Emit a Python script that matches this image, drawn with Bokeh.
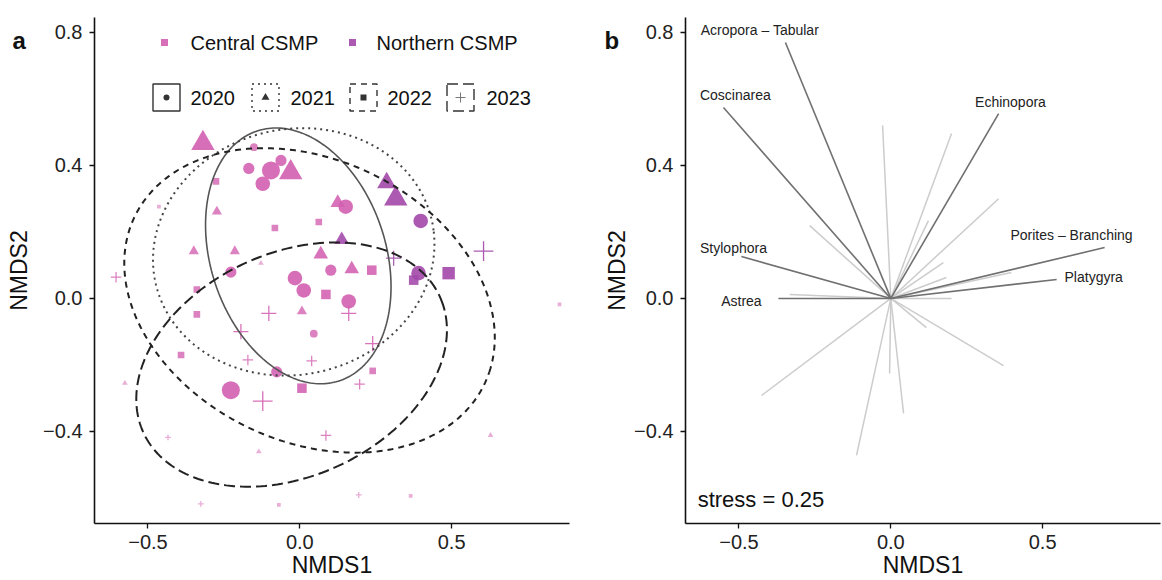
import numpy as np
from bokeh.plotting import figure
from bokeh.layouts import row
from bokeh.models import Label, ColumnDataSource, Range1d, FixedTicker, CustomJSTickFormatter
from bokeh.core.properties import value
from bokeh.embed import file_html
from bokeh.resources import INLINE

FONT = "Liberation Sans"

# ---------------- Panel a: site scores ----------------
nmds1 = [-0.319, -0.151, -0.168, -0.095, -0.122, -0.062, -0.030, -0.276, -0.464, -0.273,
         0.125, 0.151, 0.0625, -0.082, 0.138, -0.349, -0.214, 0.069, -0.128, -0.227,
         0.102, 0.171, 0.237, -0.016, 0.013, 0.086, 0.161, -0.339, -0.605, -0.339,
         -0.102, 0.007, 0.161, -0.194, 0.046, -0.391, -0.171, 0.039, 0.240, -0.076,
         0.007, 0.240, 0.197, -0.576, -0.227, -0.122, -0.434, 0.086, -0.135, -0.326,
         -0.069, 0.194, 0.365, 0.628, 0.855, 0.286, 0.316, 0.398, 0.605, 0.309,
         0.391, 0.375, 0.490]
nmds2 = [0.467, 0.455, 0.391, 0.385, 0.345, 0.415, 0.379, 0.352, 0.276, 0.261,
         0.288, 0.276, 0.230, 0.212, 0.176, 0.142, 0.142, 0.133, 0.106, 0.079,
         0.085, 0.088, 0.085, 0.061, 0.024, 0.012, -0.009, 0.027, 0.064, -0.048,
         -0.045, -0.039, -0.045, -0.100, -0.106, -0.170, -0.185, -0.188, -0.136, -0.221,
         -0.270, -0.218, -0.258, -0.255, -0.276, -0.309, -0.418, -0.412, -0.461, -0.618,
         -0.621, -0.591, -0.594, -0.412, -0.018, 0.348, 0.300, 0.233, 0.142, 0.121,
         0.076, 0.055, 0.076]
year = [2021, 2020, 2020, 2020, 2020, 2020, 2021, 2022, 2022, 2021,
        2021, 2020, 2022, 2022, 2021, 2021, 2021, 2021, 2021, 2020,
        2020, 2021, 2022, 2020, 2020, 2022, 2020, 2022, 2023, 2022,
        2023, 2021, 2023, 2023, 2020, 2022, 2023, 2023, 2023, 2020,
        2022, 2022, 2023, 2021, 2020, 2023, 2023, 2023, 2021, 2023,
        2022, 2023, 2022, 2021, 2022, 2021, 2021, 2020, 2023, 2023,
        2020, 2022, 2022]
site = ["Central"] * 14 + ["Northern"] + ["Central"] * 40 + ["Northern"] * 8
cover = [5, 2, 3, 5, 4, 3, 5, 2, 1, 2,
         3, 4, 2, 2, 3, 2, 2, 3, 1, 3,
         3, 3, 3, 4, 4, 3, 4, 2, 2, 2,
         3, 2, 3, 3, 2, 2, 2, 2, 3, 3,
         3, 2, 2, 1, 5, 4, 1, 2, 1, 1,
         1, 1, 1, 1, 1, 4, 5, 4, 4, 3,
         4, 3, 4]

# 95% ellipses per year (centre, semi-axes, angle in degrees)
ell_year = [2020, 2021, 2022, 2023]
ell_cx = [-0.005, -0.020, 0.032, -0.027]
ell_cy = [0.128, 0.140, -0.006, -0.199]
ell_a = [0.400, 0.465, 0.630, 0.530]
ell_b = [0.285, 0.370, 0.430, 0.340]
ell_angle = [113, 8, -20, 20]

site_labels = ["Central CSMP", "Northern CSMP"]

# ---------------- Panel b: species vectors ----------------
taxa = ["Acropora \u2013 Tabular", "Coscinarea", "Echinopora", "Porites \u2013 Branching",
        "Platygyra", "Stylophora", "Astrea",
        "t8", "t9", "t10", "t11", "t12", "t13", "t14", "t15", "t16", "t17",
        "t18", "t19", "t20", "t21", "t22", "t23"]
vec1 = [-0.347, -0.551, 0.355, 0.704, 0.546, -0.492, -0.370,
        -0.027, -0.267, 0.200, 0.355, 0.124, 0.173, 0.183, 0.397, 0.200, -0.333,
        -0.426, -0.113, -0.004, 0.042, 0.117, 0.371]
vec2 = [0.770, 0.574, 0.556, 0.153, 0.057, 0.126, 0.000,
        0.520, 0.219, 0.496, 0.300, 0.234, 0.108, 0.063, 0.078, 0.000, 0.012,
        -0.292, -0.472, -0.226, -0.346, -0.088, -0.202]
lab_taxa = ["Acropora \u2013 Tabular", "Coscinarea", "Echinopora", "Porites \u2013 Branching",
            "Platygyra", "Stylophora", "Astrea"]
lab_x = [-0.431, -0.512, 0.394, 0.595, 0.668, -0.518, -0.492]
lab_y = [0.806, 0.613, 0.592, 0.192, 0.063, 0.153, -0.009]
stress = 0.25

panel_letters = ["a", "b"]
y_title = "NMDS2"
x_title = "NMDS1"

# ---------------- layout constants ----------------
X0, X1 = -0.676, 0.888
Y0, Y1 = -0.677, 0.845
TOP, BOTTOM = 17, 57
H = 580
FH = H - TOP - BOTTOM

COL = {"Central": "#D35FB0", "Northern": "#A247A8"}
SHAPE = {2020: "circle", 2021: "triangle", 2022: "square", 2023: "cross"}
SHAPE_SCALE = {2020: 1.0, 2021: 1.3, 2022: 0.85, 2023: 1.35}
DASH = {2020: "solid", 2021: "2 4", 2022: "6 5", 2023: "11 5"}
ELL_COL = {2020: "#555555", 2021: "#444444", 2022: "#222222", 2023: "#222222"}
ELL_W = {2020: 1.6, 2021: 2.0, 2022: 2.0, 2023: 2.0}
ALPHA = {1: 0.5, 2: 0.78, 3: 0.88, 4: 0.9, 5: 0.9}


def make_fig(width, left, right):
    p = figure(width=width, height=H, x_range=Range1d(X0, X1), y_range=Range1d(Y0, Y1),
               output_backend="svg", toolbar_location=None,
               min_border_left=left, min_border_right=right,
               min_border_top=TOP, min_border_bottom=BOTTOM)
    p.outline_line_color = None
    p.xgrid.visible = False
    p.ygrid.visible = False
    p.background_fill_color = "white"
    p.border_fill_color = "white"
    fmt = CustomJSTickFormatter(code="return (tick < 0 ? '\\u2212' : '') + Math.abs(tick).toFixed(1);")
    p.xaxis.ticker = FixedTicker(ticks=[-0.5, 0.0, 0.5])
    p.yaxis.ticker = FixedTicker(ticks=[-0.4, 0.0, 0.4, 0.8])
    for ax in (p.xaxis[0], p.yaxis[0]):
        ax.formatter = fmt
        ax.axis_line_color = "#111111"
        ax.axis_line_width = 1.6
        ax.major_tick_line_color = "#111111"
        ax.major_tick_line_width = 1.3
        ax.major_tick_out = 5
        ax.major_tick_in = 0
        ax.minor_tick_out = 0
        ax.minor_tick_in = 0
        ax.major_label_text_font = FONT
        ax.major_label_text_font_size = "20px"
        ax.major_label_text_color = "#222222"
        ax.axis_label_text_font = FONT
        ax.axis_label_text_font_size = "23px"
        ax.axis_label_text_font_style = "normal"
        ax.axis_label_text_color = "#111111"
    p.xaxis.axis_label = x_title
    p.xaxis.major_label_standoff = 6
    p.xaxis.axis_label_standoff = 0
    p.yaxis.major_label_standoff = 7
    return p


def strip(width, letter, letter_x, title_x):
    """Narrow strip left of a panel carrying the panel letter and the y title.
    Its frame is aligned with the panel frame, so y is in page pixels (top-down)."""
    s = figure(width=width, height=H, x_range=Range1d(0, width),
               y_range=Range1d(TOP + FH, TOP),
               output_backend="svg", toolbar_location=None,
               x_axis_type=None, y_axis_type=None,
               min_border_left=0, min_border_right=0,
               min_border_top=TOP, min_border_bottom=BOTTOM)
    s.outline_line_color = None
    s.xgrid.visible = False
    s.ygrid.visible = False
    s.background_fill_color = "white"
    s.border_fill_color = "white"
    s.text(x=[letter_x], y=[40], text=[letter], text_font=value(FONT),
           text_font_size="24px", text_font_style="bold", text_align="left",
           text_baseline="alphabetic", text_color="#111111")
    s.text(x=[title_x], y=[TOP + FH / 2], text=[y_title], text_font=value(FONT),
           text_font_size="23px", text_align="center", text_baseline="middle",
           angle=np.pi / 2, text_color="#111111")
    return s


def px_to_data(frame_left, frame_w):
    def sx(px):
        return X0 + (px - frame_left) / frame_w * (X1 - X0)

    def sy(py):
        return Y1 - (py - TOP) / FH * (Y1 - Y0)
    return sx, sy


# ================= Panel a =================
SA = 34
fa = strip(SA, panel_letters[0], 12, 18)
pa = make_fig(581 - SA, 94 - SA, 12)
sxa, sya = px_to_data(94, 581 - 94 - 12)

n = len(nmds1)
sizes = [(1.0 + 3.4 * c) * SHAPE_SCALE[y] for c, y in zip(cover, year)]
cols = [COL[s] for s in site]
alph = [ALPHA[c] for c in cover]
mk = [SHAPE[y] for y in year]
idx_fill = [i for i in range(n) if year[i] != 2023]
idx_cross = [i for i in range(n) if year[i] == 2023]

src_fill = ColumnDataSource(dict(
    x=[nmds1[i] for i in idx_fill], y=[nmds2[i] for i in idx_fill],
    marker=[mk[i] for i in idx_fill], size=[sizes[i] for i in idx_fill],
    color=[cols[i] for i in idx_fill], alpha=[alph[i] for i in idx_fill]))
pa.scatter(x="x", y="y", marker="marker", size="size", fill_color="color",
           fill_alpha="alpha", line_color=None, source=src_fill)

src_cross = ColumnDataSource(dict(
    x=[nmds1[i] for i in idx_cross], y=[nmds2[i] for i in idx_cross],
    size=[sizes[i] for i in idx_cross],
    color=[cols[i] for i in idx_cross], alpha=[alph[i] for i in idx_cross]))
pa.scatter(x="x", y="y", marker="cross", size="size", line_color="color",
           line_alpha="alpha", line_width=1.3, source=src_cross)

t = np.linspace(0, 2 * np.pi, 240)
for yr, cx, cy, a, b, ang in zip(ell_year, ell_cx, ell_cy, ell_a, ell_b, ell_angle):
    th = np.deg2rad(ang)
    ex = cx + a * np.cos(th) * np.cos(t) - b * np.sin(th) * np.sin(t)
    ey = cy + a * np.sin(th) * np.cos(t) + b * np.cos(th) * np.sin(t)
    pa.line(ex, ey, line_color=ELL_COL[yr], line_width=ELL_W[yr], line_dash=DASH[yr])

# legend: sites
leg_sq_px = [164, 352]
leg_txt_px = [190, 376]
for lbl, s, qx, tx in zip(site_labels, ["Central", "Northern"], leg_sq_px, leg_txt_px):
    pa.scatter(x=[sxa(qx)], y=[sya(42)], marker="square", size=7, fill_color=COL[s],
               line_color=None, fill_alpha=0.9)
    pa.text(x=[sxa(tx)], y=[sya(42)], text=[lbl], text_font=value(FONT),
            text_font_size="20px", text_baseline="middle", text_align="left",
            text_color="#111111")

# legend: years
box_px = [166, 265, 363, 460]
ytxt_px = [190, 290, 387, 486]
MK_LEG = {2020: 6, 2021: 8, 2022: 6, 2023: 10}
for yr, bx, tx in zip(ell_year, box_px, ytxt_px):
    pa.rect(x=[sxa(bx)], y=[sya(97)], width=27, height=27, width_units="screen",
            height_units="screen", fill_color=None, line_color="#333333",
            line_width=1.4, line_dash=DASH[yr])
    if yr == 2023:
        pa.scatter(x=[sxa(bx)], y=[sya(97)], marker="cross", size=MK_LEG[yr],
                   line_color="#777777", line_width=1.0)
    else:
        pa.scatter(x=[sxa(bx)], y=[sya(97)], marker=SHAPE[yr], size=MK_LEG[yr],
                   fill_color="#333333", line_color=None)
    pa.text(x=[sxa(tx)], y=[sya(97)], text=[str(yr)], text_font=value(FONT),
            text_font_size="20px", text_baseline="middle", text_align="left",
            text_color="#111111")

# ================= Panel b =================
SB = 50
fb = strip(SB, panel_letters[1], 604 - 581, 616 - 581)
pb = make_fig(581 - SB, 684 - 581 - SB, 2)

lab_set = set(lab_taxa)
un = [i for i in range(len(taxa)) if taxa[i] not in lab_set]
hi = [i for i in range(len(taxa)) if taxa[i] in lab_set]
pb.segment(x0=[0.0] * len(un), y0=[0.0] * len(un), x1=[vec1[i] for i in un],
           y1=[vec2[i] for i in un], line_color="#cccccc", line_width=1.5)
pb.segment(x0=[0.0] * len(hi), y0=[0.0] * len(hi), x1=[vec1[i] for i in hi],
           y1=[vec2[i] for i in hi], line_color="#707070", line_width=1.6)
pb.text(x=lab_x, y=lab_y, text=lab_taxa, text_font=value(FONT), text_font_size="14px",
        text_align="center", text_baseline="middle", text_color="#222222")

pb.add_layout(Label(x=-0.636, y=-0.605, text=f"stress = {stress:.2f}", text_font=FONT,
                    text_font_size="22px", text_baseline="middle", text_align="left",
                    text_color="#111111"))

layout = row(fa, pa, fb, pb)
open("out.html", "w").write(file_html(layout, INLINE))
